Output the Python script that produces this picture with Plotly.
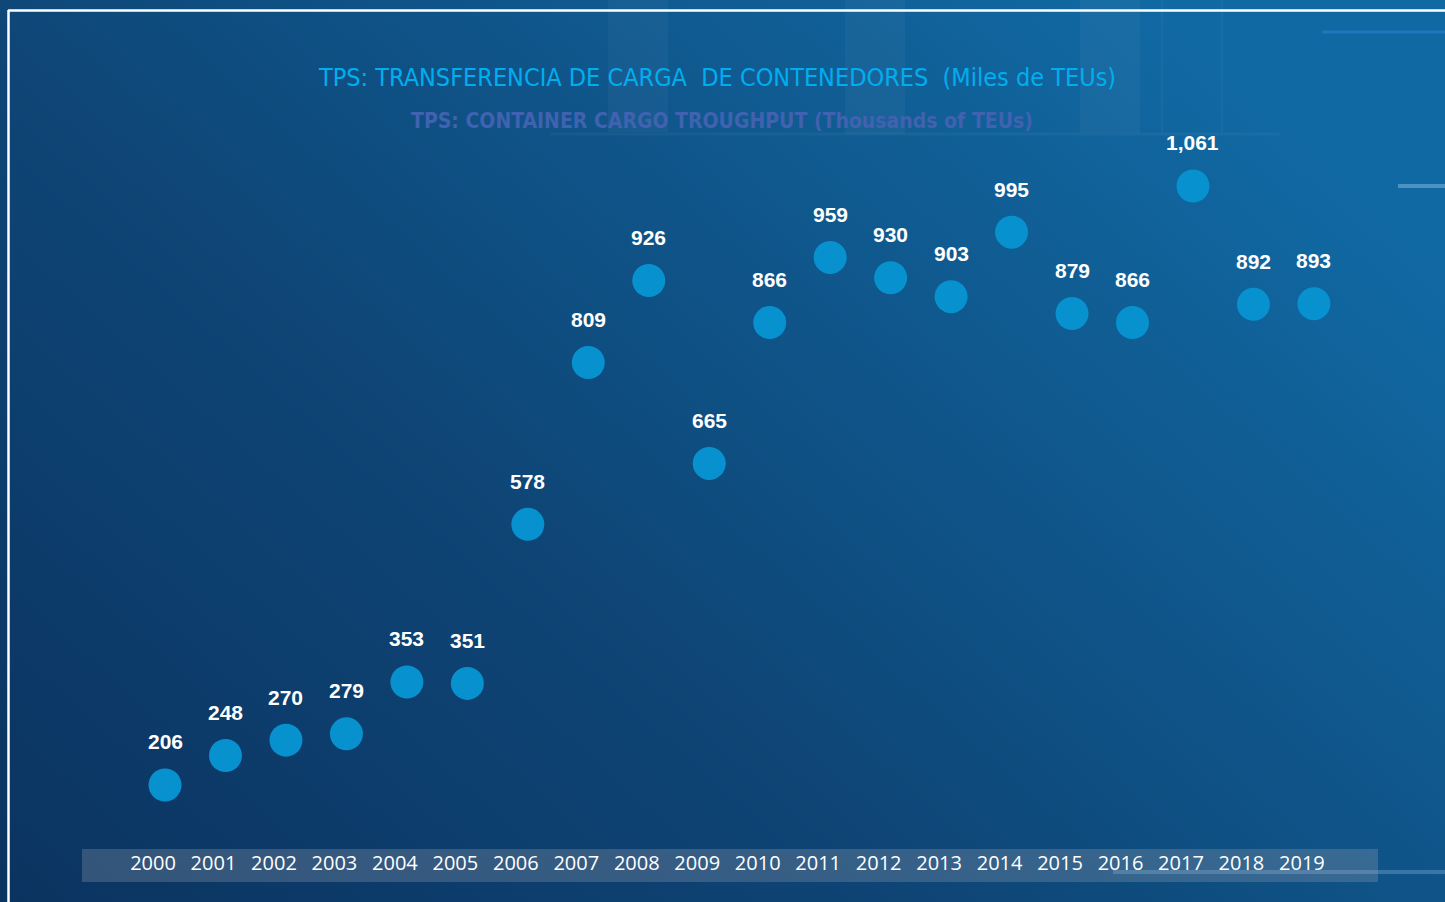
import base64
import plotly.graph_objects as go

# ---------------- data ----------------
years = [str(y) for y in range(2000, 2020)]
teus = [206, 248, 270, 279, 353, 351, 578, 809, 926, 665,
        866, 959, 930, 903, 995, 879, 866, 1061, 892, 893]
title_es = "TPS: TRANSFERENCIA DE CARGA  DE CONTENEDORES  (Miles de TEUs)"
title_en = "TPS: CONTAINER CARGO TROUGHPUT (Thousands of TEUs)"

W, H = 1445, 902
xpos = list(range(len(years)))


def px_x(p):
    return p / W


def px_y(p):
    return 1 - p / H


# background gradient as an inline SVG image
svg = f"""<svg xmlns='http://www.w3.org/2000/svg' width='{W}' height='{H}'>
<defs><linearGradient id='g' x1='0' y1='1' x2='1' y2='0.3'>
<stop offset='0' stop-color='#0b3360'/>
<stop offset='0.45' stop-color='#0e4677'/>
<stop offset='1' stop-color='#1169a3'/>
</linearGradient></defs>
<rect width='{W}' height='{H}' fill='url(#g)'/>
</svg>"""
bg_uri = "data:image/svg+xml;base64," + base64.b64encode(svg.encode()).decode()

fig = go.Figure()

fig.add_trace(go.Scatter(
    x=xpos, y=teus, mode="markers",
    marker=dict(size=33, color="#0891cf", line=dict(width=0)),
    customdata=years, hovertemplate="%{customdata}: %{y}<extra></extra>",
    showlegend=False,
))

annotations = []
for i, v in zip(xpos, teus):
    annotations.append(dict(
        x=i, y=v, xref="x", yref="y", text=f"<b>{v:,}</b>",
        showarrow=False, yshift=43,
        font=dict(family="Liberation Sans, Arial, sans-serif", size=21, color="white"),
    ))

annotations.append(dict(
    x=px_x(717), y=px_y(78), xref="paper", yref="paper", text=title_es,
    showarrow=False, xanchor="center", yanchor="middle",
    font=dict(family="DejaVu Sans Condensed, Liberation Sans Narrow, sans-serif",
              size=25, color="#00aeef"),
))
annotations.append(dict(
    x=px_x(722), y=px_y(121), xref="paper", yref="paper", text=f"<b>{title_en}</b>",
    showarrow=False, xanchor="center", yanchor="middle",
    font=dict(family="DejaVu Sans Condensed, Liberation Sans Narrow, sans-serif",
              size=21, color="#4062b0"),
))

shapes = []
# faint decorative panels at top
for x0, x1, y1 in [(608, 668, 132), (845, 905, 134), (1080, 1140, 133)]:
    shapes.append(dict(type="rect", xref="paper", yref="paper",
                       x0=px_x(x0), x1=px_x(x1), y0=px_y(y1), y1=1,
                       fillcolor="rgba(255,255,255,0.035)", line=dict(width=0), layer="below"))
shapes.append(dict(type="line", xref="paper", yref="paper",
                   x0=px_x(550), x1=px_x(1280), y0=px_y(134), y1=px_y(134),
                   line=dict(color="rgba(255,255,255,0.04)", width=3), layer="below"))
for xv in (1162, 1222):
    shapes.append(dict(type="line", xref="paper", yref="paper",
                       x0=px_x(xv), x1=px_x(xv), y0=px_y(133), y1=1,
                       line=dict(color="rgba(255,255,255,0.035)", width=2), layer="below"))
shapes.append(dict(type="line", xref="paper", yref="paper",
                   x0=px_x(1322), x1=1, y0=px_y(32), y1=px_y(32),
                   line=dict(color="rgba(40,130,210,0.6)", width=3), layer="below"))
shapes.append(dict(type="line", xref="paper", yref="paper",
                   x0=px_x(1398), x1=1, y0=px_y(186), y1=px_y(186),
                   line=dict(color="rgba(120,170,215,0.6)", width=4), layer="below"))
shapes.append(dict(type="line", xref="paper", yref="paper",
                   x0=px_x(1113), x1=1, y0=px_y(872), y1=px_y(872),
                   line=dict(color="rgba(120,170,215,0.4)", width=4), layer="below"))
# axis strip
shapes.append(dict(type="rect", xref="paper", yref="paper",
                   x0=px_x(82), x1=px_x(1378), y0=px_y(882), y1=px_y(849),
                   fillcolor="rgba(150,160,175,0.30)", line=dict(width=0), layer="below"))
# white frame lines
shapes.append(dict(type="line", xref="paper", yref="paper",
                   x0=px_x(8), x1=1, y0=px_y(10.5), y1=px_y(10.5),
                   line=dict(color="white", width=2.5), layer="above"))
shapes.append(dict(type="line", xref="paper", yref="paper",
                   x0=px_x(8.5), x1=px_x(8.5), y0=0, y1=px_y(10),
                   line=dict(color="white", width=2.5), layer="above"))

fig.update_layout(
    width=W, height=H,
    margin=dict(l=0, r=0, t=0, b=0),
    paper_bgcolor="#0e3d6e",
    plot_bgcolor="rgba(0,0,0,0)",
    images=[dict(source=bg_uri, xref="paper", yref="paper", x=0, y=1,
                 sizex=1, sizey=1, sizing="stretch", layer="below",
                 xanchor="left", yanchor="top")],
    xaxis=dict(domain=[px_x(82), px_x(1378)], range=[-1.373, 20.06],
               tickmode="array", tickvals=xpos, ticktext=years,
               showgrid=False, zeroline=False, showline=False,
               ticks="", ticklabelshift=-12,
               tickfont=dict(family="Open Sans, sans-serif", size=20, color="white"),
               fixedrange=True),
    yaxis=dict(domain=[px_y(849), px_y(140)], range=[114.6, 1126.6],
               showgrid=False, zeroline=False, showline=False, showticklabels=False,
               fixedrange=True),
    annotations=annotations,
    shapes=shapes,
)

fig.write_html("out.html", config={"displayModeBar": False},
               post_script="document.body.style.margin='0';")
